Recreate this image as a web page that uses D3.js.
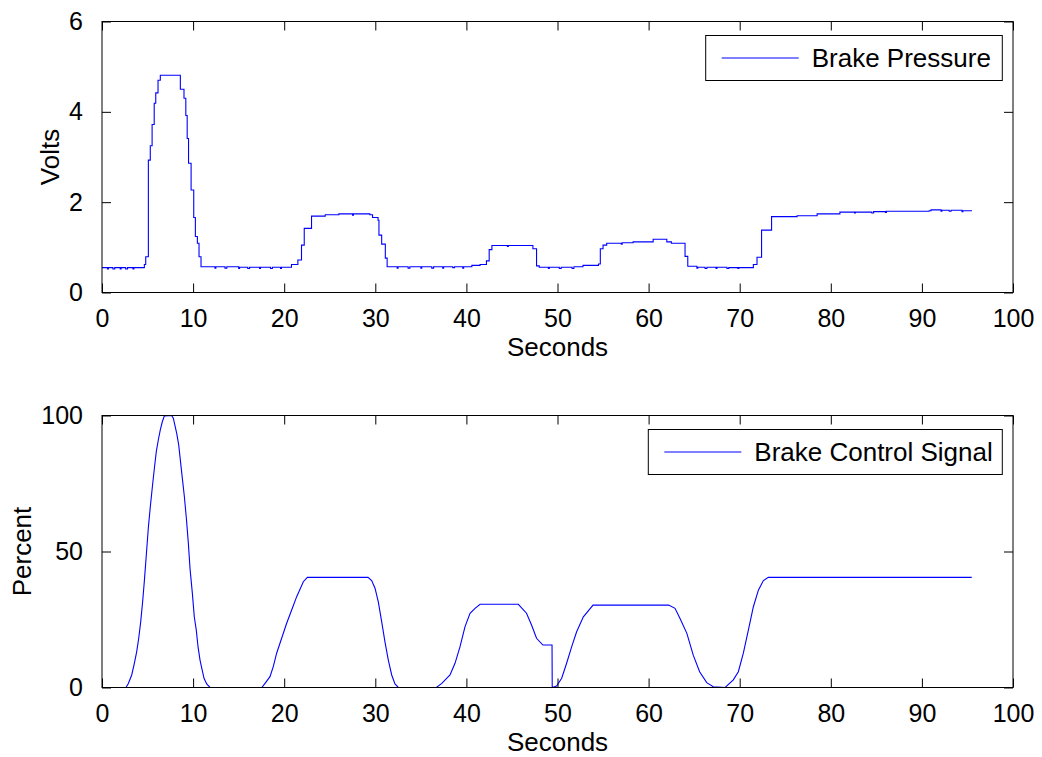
<!DOCTYPE html>
<html><head><meta charset="utf-8">
<script src="https://cdn.jsdelivr.net/npm/d3@7"></script>
<style>
html,body{margin:0;padding:0;background:#fff;}
text{font-family:"Liberation Sans",Arial,Helvetica,sans-serif;fill:#000;}
</style></head>
<body>
<svg id="chart" width="1042" height="757"></svg>
<script>
// ---- data ----
const xTicks = [0,10,20,30,40,50,60,70,80,90,100];
const pressureTicks = [0,2,4,6];
const percentTicks = [0,50,100];
const pressureLabel = "Brake Pressure";
const controlLabel = "Brake Control Signal";

// Brake pressure (seconds, volts), sampled / held
const pressureT = [0,0.6,0.7,1.2,1.4,2.0,2.1,2.6,2.8,3.4,3.5,4.65,4.8,5.09,5.3,5.5,5.73,5.9,6.15,6.4,8.6,9.0,9.2,9.35,9.5,9.78,10.07,10.25,10.47,10.65,10.87,
  12.4,12.5,13.5,13.7,15.0,15.1,16,16.2,17.3,17.4,18.5,18.7,19.6,19.7,20.8,21.5,21.9,22.2,23.0,24.5,26,27.5,27.6,29.4,29.7,30.3,30.4,30.7,31.1,31.3,
  32.4,32.5,33.6,33.8,35.0,35.1,36.2,36.4,37.4,37.5,38.5,38.7,39.6,39.7,40.6,41.5,42.2,42.5,42.8,44.5,44.6,47.3,47.7,48.0,
  49.0,49.1,50.2,50.4,51.6,51.8,52.8,54.5,54.7,55.0,55.4,57.0,57.1,58.3,60.5,62.0,62.5,64.0,64.3,
  65.3,65.4,66.2,66.4,67.4,67.5,68.6,68.8,69.8,69.9,71.5,71.9,72.4,73.5,76.3,78.5,81,82.6,82.7,84.5,84.7,86.0,86.1,87.5,90.8,91.0,92.1,92.2,93.0,93.2,94.4,94.5,95.5];
const pressureV = [0.55,0.52,0.55,0.52,0.55,0.52,0.55,0.52,0.55,0.52,0.55,0.62,0.79,2.93,3.25,3.72,4.19,4.42,4.70,4.81,4.5,4.30,3.92,3.41,2.86,2.27,1.66,1.24,1.09,0.79,0.57,
  0.54,0.57,0.54,0.57,0.53,0.56,0.53,0.56,0.53,0.56,0.53,0.56,0.53,0.56,0.62,0.72,1.05,1.42,1.69,1.72,1.74,1.71,1.74,1.72,1.66,1.6,1.27,1.07,0.76,0.57,
  0.54,0.57,0.54,0.57,0.54,0.57,0.54,0.57,0.54,0.57,0.55,0.57,0.54,0.57,0.6,0.62,0.7,0.95,1.04,1.02,1.04,0.97,0.59,0.56,
  0.53,0.56,0.53,0.56,0.53,0.57,0.6,0.63,0.97,1.05,1.09,1.07,1.10,1.12,1.18,1.12,1.09,0.8,0.58,
  0.54,0.56,0.53,0.56,0.53,0.56,0.53,0.55,0.53,0.55,0.62,0.78,1.38,1.68,1.70,1.74,1.78,1.76,1.78,1.76,1.79,1.77,1.80,1.80,1.81,1.83,1.80,1.82,1.80,1.82,1.79,1.81,1.81];

// Brake control signal (seconds, percent)
const controlT = [0,2.63,2.89,3.26,3.55,3.81,4.03,4.25,4.46,4.65,4.87,5.09,5.31,5.53,5.75,5.96,6.18,6.40,6.62,6.84,7.65,7.83,8.0,8.2,8.42,8.6,8.82,9.04,9.26,9.48,9.66,9.92,10.13,10.35,10.54,10.76,10.98,11.2,11.49,11.86,
  17.53,17.71,18.44,18.8,19.17,19.72,20.27,20.82,21.37,22.1,22.54,29.2,29.6,29.97,30.33,30.7,31.06,31.43,31.8,32.16,32.53,
  36.7,37.3,38.2,38.75,39.3,39.85,40.4,40.95,41.5,45.7,46.6,47.15,47.7,48.4,49.4,49.42,49.9,50.46,51.0,51.56,52.1,52.84,53.9,
  62.2,62.9,63.45,64.2,64.9,65.6,66.38,67.1,68.4,69.3,69.85,70.4,70.95,71.5,72.05,72.6,73.14,95.47];
const controlP = [0,0,1.5,4.6,8.9,13.2,18.1,24.2,31.5,39.2,49,58.9,66.7,73.8,80.6,86.7,91,94.7,97.7,99.8,100,99,96.5,93.4,89.2,83.6,76.9,70.2,62.2,53,43.8,34.6,26,21.1,15,10.1,6.7,3.4,1.3,0,
  0,0.7,4,7.7,12.6,18.1,23.6,28.5,33.4,38.9,40.5,40.5,39.3,36.5,31.5,24.2,16.8,10.1,4.6,1.3,0,
  0,1.5,4.6,8.9,15,22.4,27.3,29.1,30.6,30.6,27.3,23,18.1,15.6,15.6,0,0.5,3.4,8.9,15,20.5,26,30.3,
  30.3,29.1,25.4,19.9,11.9,5.8,1.8,0.3,0,2.8,5.8,12.6,21.1,29.7,35.8,39.3,40.5,40.5];

// ---- layout ----
const svg = d3.select("#chart");
const L = 102, R = 1013;
const panels = [
  {top:21.5, bottom:292.5, domain:[0,6], ticks:pressureTicks, ylabel:"Volts", ylx:49.5,
   t:pressureT, v:pressureV, curve:d3.curveStepAfter, legend:pressureLabel, legW:296.6, legH:45},
  {top:415.5, bottom:687.5, domain:[0,100], ticks:percentTicks, ylabel:"Percent", ylx:22,
   t:controlT, v:controlP, curve:d3.curveLinear, legend:controlLabel, legW:354, legH:45}
];
const FS = 26, TFS = 25;
const x = d3.scaleLinear().domain([0,100]).range([L,R]);

panels.forEach(p => {
  const y = d3.scaleLinear().domain(p.domain).range([p.bottom,p.top]);
  const g = svg.append("g");
  const data = p.t.map((t,i)=>[t,p.v[i]]);
  g.append("path").datum(data)
    .attr("fill","none").attr("stroke","#0000ff").attr("stroke-width",1.1)
    .attr("d", d3.line().x(d=>x(d[0])).y(d=>y(d[1])).curve(p.curve));
  g.append("rect").attr("x",L).attr("y",p.top).attr("width",R-L).attr("height",p.bottom-p.top)
    .attr("fill","none").attr("stroke","#000").attr("stroke-width",1);
  const xb = d3.axisBottom(x).tickValues(xTicks).tickSize(-9).tickPadding(17).tickFormat(d3.format("d"));
  const xt = d3.axisTop(x).tickValues(xTicks).tickSize(-9).tickFormat("");
  const yl = d3.axisLeft(y).tickValues(p.ticks).tickSize(-9).tickPadding(19).tickFormat(d3.format("d"));
  const yr = d3.axisRight(y).tickValues(p.ticks).tickSize(-9).tickFormat("");
  [[xb,`translate(0,${p.bottom})`],[xt,`translate(0,${p.top})`],[yl,`translate(${L},0)`],[yr,`translate(${R},0)`]].forEach(([ax,tr])=>{
    const a = g.append("g").attr("transform",tr).call(ax);
    a.select(".domain").remove();
    a.selectAll("line").attr("stroke","#000");
    a.selectAll("text").attr("font-size",TFS).attr("font-family","Liberation Sans, Arial, sans-serif").attr("fill","#000");
  });
  g.append("text").attr("x",(L+R)/2).attr("y",p.bottom+63).attr("text-anchor","middle")
    .attr("font-size",FS).text("Seconds");
  g.append("text").attr("transform",`translate(${p.ylx},${(p.top+p.bottom)/2}) rotate(-90)`)
    .attr("text-anchor","middle").attr("dy","0.35em").attr("font-size",FS).text(p.ylabel);
  const lx = R-10.7-p.legW, ly = p.top+14;
  g.append("rect").attr("x",lx).attr("y",ly).attr("width",p.legW).attr("height",p.legH)
    .attr("fill","#fff").attr("stroke","#000").attr("stroke-width",1);
  g.append("line").attr("x1",lx+16).attr("x2",lx+93).attr("y1",ly+p.legH/2).attr("y2",ly+p.legH/2)
    .attr("stroke","#0000ff").attr("stroke-width",1.1);
  g.append("text").attr("x",lx+106).attr("y",ly+p.legH/2).attr("dy","0.35em")
    .attr("font-size",FS).text(p.legend);
});
</script>
</body></html>
